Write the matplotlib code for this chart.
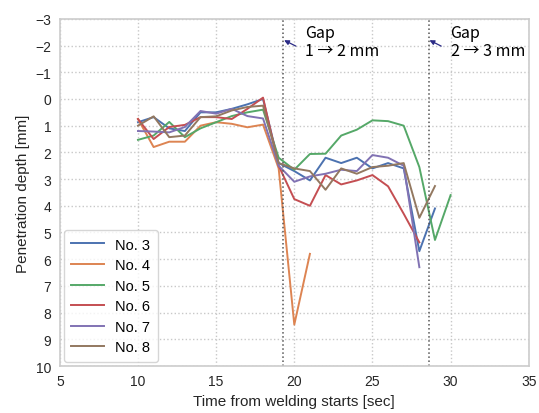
import numpy as np
import matplotlib
matplotlib.use('Agg')
import matplotlib.pyplot as plt

nan = np.nan

# time axis [sec]
t = [10, 11, 12, 13, 14, 15, 16, 17, 18, 19, 20, 21, 22, 23, 24, 25, 26, 27, 28, 29, 30]

# penetration depth [mm]
no3 = [0.87, 0.68, 1.1, 1.2, 0.5, 0.5, 0.37, 0.2, 0.0, 2.4, 2.7, 3.05, 2.2, 2.4, 2.2, 2.6, 2.4, 2.6, 5.7, 4.1, nan]
no4 = [0.75, 1.8, 1.6, 1.6, 1.0, 0.87, 0.93, 1.06, 0.96, 2.6, 8.45, 5.8, nan, nan, nan, nan, nan, nan, nan, nan, nan]
no5 = [1.53, 1.37, 0.86, 1.43, 1.1, 0.87, 0.64, 0.5, 0.4, 2.2, 2.65, 2.06, 2.05, 1.37, 1.15, 0.8, 0.83, 1.0, 2.55, 5.28, 3.6]
no6 = [0.75, 1.5, 1.05, 0.97, 0.68, 0.68, 0.75, 0.37, -0.05, 2.5, 3.75, 4.0, 2.85, 3.2, 3.05, 2.85, 3.27, 4.3, 5.37, nan, nan]
no7 = [1.2, 1.22, 1.25, 1.05, 0.45, 0.55, 0.37, 0.64, 0.73, 2.5, 3.1, 2.9, 2.8, 2.65, 2.7, 2.1, 2.2, 2.5, 6.3, nan, nan]
no8 = [1.0, 0.65, 1.43, 1.37, 0.68, 0.65, 0.43, 0.3, 0.25, 2.4, 2.6, 2.7, 3.4, 2.6, 2.8, 2.55, 2.5, 2.4, 4.45, 3.26, nan]

labels = ['No. 3', 'No. 4', 'No. 5', 'No. 6', 'No. 7', 'No. 8']
colors = ['#4C72B0', '#DD8452', '#55A868', '#C44E52', '#8172B3', '#937860']

gap_times = [19.3, 28.6]
gap_texts = ['Gap\n1 \u2192 2 mm', 'Gap\n2 \u2192 3 mm']

plt.rcParams['font.family'] = ['Liberation Sans', 'DejaVu Sans']

fig = plt.figure(figsize=(5.39, 4.14), dpi=100)
ax = fig.add_axes([0.111, 0.1135, 0.870, 0.8385])

for y, lab, c in zip([no3, no4, no5, no6, no7, no8], labels, colors):
    ax.plot(t, y, color=c, lw=1.4, label=lab)

for gt, txt in zip(gap_times, gap_texts):
    ax.axvline(gt, color='#555555', ls=':', lw=1.1)
    ax.annotate('', xy=(gt + 0.05, -2.2), xytext=(gt + 0.8, -1.98),
                arrowprops=dict(arrowstyle='-|>', color='#2b2b86', lw=0.9,
                                mutation_scale=7, shrinkA=0, shrinkB=0))
    ax.text(gt + 1.4, -2.8, txt, fontsize=11.5, va='top', ha='left', linespacing=1.05,
            family=['Noto Sans CJK KR', 'DejaVu Sans'])

ax.set_xlim(5, 35)
ax.set_ylim(10, -3)
ax.set_xticks(range(5, 36, 5))
ax.set_yticks(range(-3, 11))
ax.grid(True, ls=':', color='#c8c8c8', lw=1)
ax.set_axisbelow(True)
for s in ax.spines.values():
    s.set_color('#cccccc')
    s.set_linewidth(1.2)
ax.tick_params(length=0, labelsize=10, labelcolor='#262626', pad=6)

ax.set_xlabel('Time from welding starts [sec]', fontsize=11, color='#262626', labelpad=4)
ax.set_ylabel('Penetration depth [mm]', fontsize=11, color='#262626')

leg = ax.legend(loc='lower left', fontsize=10.5, frameon=True, handlelength=2.2,
                borderpad=0.5, labelspacing=0.45, borderaxespad=0.3)
leg.get_frame().set_edgecolor('#cccccc')

fig.savefig('out.png', dpi=100)
